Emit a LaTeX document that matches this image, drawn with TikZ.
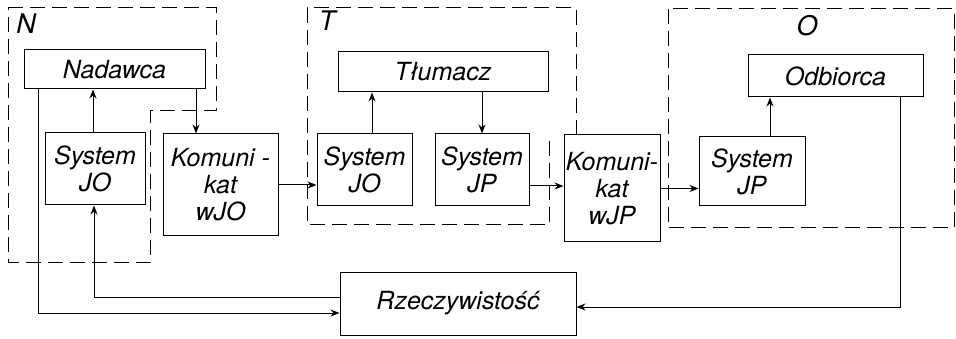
\documentclass[tikz,border=0pt]{standalone}
\usepackage{fontspec}
\setmainfont{TeX Gyre Heros}
\usetikzlibrary{arrows.meta}
\begin{document}
\begin{tikzpicture}[x=1pt,y=-1pt,
  font=\fontsize{25}{27}\selectfont\itshape,
  blk/.style={draw, line width=1pt, rectangle, inner sep=0pt, align=center},
  grp/.style={draw, line width=1pt, dash pattern=on 15pt off 7pt},
  arr/.style={line width=1pt, -{Stealth[length=9pt,width=7pt]}},
  lab/.style={font=\fontsize{27}{29}\selectfont\itshape}]
\useasboundingbox (0,0) rectangle (956,339);
% groups
\draw[grp] (8,8) -- (216,8) -- (216,111) -- (150,111) -- (150,263) -- (8,263) -- cycle;
\draw[grp] (576,135) -- (576,8) -- (307,8) -- (307,225) -- (549,225) -- (549,137);
\draw[grp] (668,9) rectangle (954,228);
\node[lab] (labN) at (26,24) {N};
\node[lab] (labT) at (327,21) {T};
\node[lab] (labO) at (807,26) {O};
% blocks
\node[blk, minimum width=181pt, minimum height=39pt] (nad) at (114.5,69.5) {Nadawca};
\node[blk, minimum width=100pt, minimum height=72pt] (sysN) at (95,169) {System\\JO};
\node[blk, minimum width=115pt, minimum height=102pt] (komJO) at (220.5,185) {Komuni -\\kat\\wJO};
\node[blk, minimum width=210pt, minimum height=40pt] (tlu) at (443,72) {Tłumacz};
\node[blk, minimum width=95pt, minimum height=72pt] (sysT) at (364.5,170) {System\\JO};
\node[blk, minimum width=94pt, minimum height=72pt] (sysP) at (482,170) {System\\JP};
\node[blk, minimum width=96pt, minimum height=107pt] (komJP) at (612,188.5) {Komuni-\\kat\\wJP};
\node[blk, minimum width=175pt, minimum height=42pt] (odb) at (835.5,76) {Odbiorca};
\node[blk, minimum width=106pt, minimum height=69pt] (sysO) at (752,171.5) {System\\JP};
\node[blk, minimum width=236pt, minimum height=63pt] (rz) at (458,303.5) {Rzeczywistość};
% connectors
\draw[arr] ([xshift=-2pt]sysN.north) -- ([xshift=-2pt]sysN.north |- nad.south);
\draw[arr] ([xshift=-24.5pt]komJO.north |- nad.south) -- ([xshift=-24.5pt]komJO.north);
\draw[arr] (komJO.east) -- (komJO.east -| sysT.west);
\draw[arr] ([xshift=7.5pt]sysT.north) -- ([xshift=7.5pt]sysT.north |- tlu.south);
\draw[arr] (sysP.north |- tlu.south) -- (sysP.north);
\draw[arr] ([yshift=-16pt]sysP.east) -- ([yshift=-16pt]sysP.east -| komJP.west);
\draw[arr] (komJP.east) -- (komJP.east -| sysO.west);
\draw[arr] ([xshift=18pt]sysO.north) -- ([xshift=18pt]sysO.north |- odb.south);
\draw[arr] ([xshift=64.5pt]odb.south) |- ([yshift=-3.5pt]rz.east);
\draw[arr] ([xshift=-76.5pt]nad.south) |- ([yshift=-9.5pt]rz.west);
\draw[arr] ([yshift=6.5pt]rz.west) -| ([xshift=-1pt]sysN.south);
\end{tikzpicture}
\end{document}
